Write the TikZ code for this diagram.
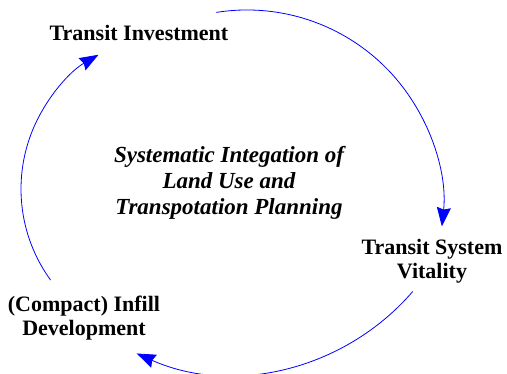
\documentclass[tikz,border=0pt]{standalone}
\usepackage{fontspec}
\setmainfont{Liberation Serif}
\usetikzlibrary{arrows.meta}

\begin{document}
\begin{tikzpicture}[x=10pt, y=10pt,
	link/.style={blue, line width=0.8pt, -{Stealth[length=19pt, width=14pt, inset=2pt]}},
	var/.style={font=\fontsize{22}{24}\selectfont\bfseries, align=center, inner sep=0pt},
	theme/.style={font=\fontsize{23}{26}\selectfont\bfseries\itshape, align=center, inner sep=0pt}]
			%%%%% START %%%%%
			
			\useasboundingbox (0, 0) rectangle (50.7, 37.3);
			
			\node[var] (inv) at (13.9, 34.0) {Transit Investment};
			\node[var] (vit) at (43.2, 11.2) {Transit System\\Vitality};
			\node[var] (infill) at (8.4, 5.5) {(Compact) Infill\\Development};
			\node[theme] (plan) at (22.9, 19.0) {Systematic Integation of\\Land Use and\\Transpotation Planning};
			
			\coordinate (invOut) at (21.63, 36.06);
			\coordinate (vitOut) at (41.27, 8.15);
			\coordinate (infillOut) at (5.06, 9.29);
			
			\draw[link] (invOut) arc[start angle=99, end angle=-6, radius=19.6];
			\draw[link] (vitOut) arc[start angle=-40.7, end angle=-114, radius=23.7];
			\draw[link] (infillOut) arc[start angle=216, end angle=120, radius=15.5];
			
			%%%%% END %%%%%
		\end{tikzpicture}
\end{document}
